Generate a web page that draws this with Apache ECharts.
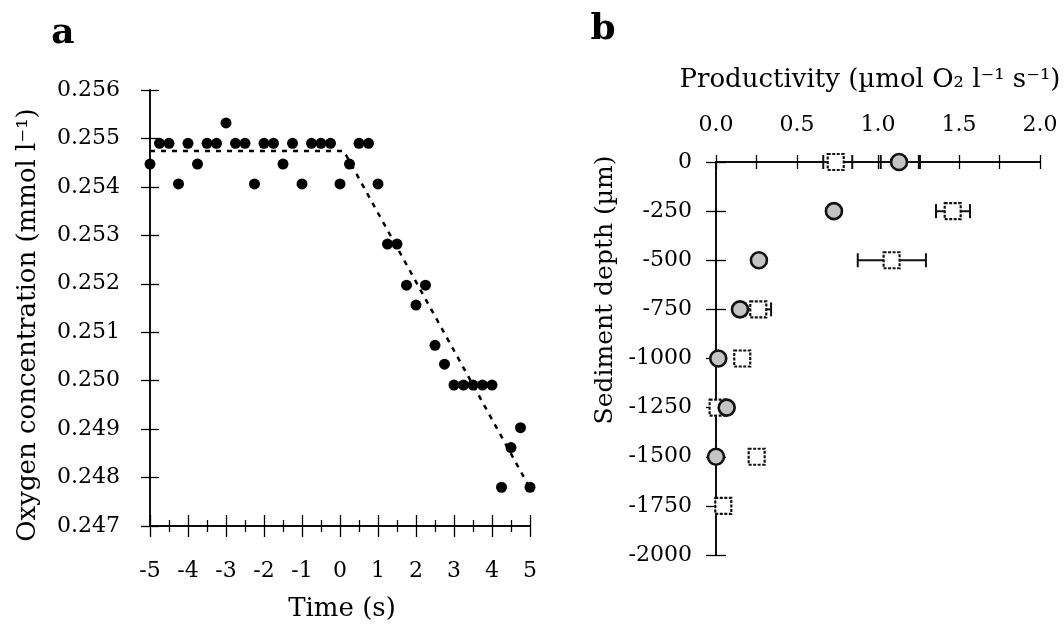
<!DOCTYPE html>
<html>
<head>
<meta charset="utf-8">
<script src="https://cdn.jsdelivr.net/npm/echarts@6/dist/echarts.min.js"></script>
<style>
html,body{margin:0;padding:0;background:#fff;}
#chart{width:1064px;height:627px;}
</style>
</head>
<body>
<div id="chart"></div>
<script>
// ---- Panel a data ----
const timeSec = [-5,-4.75,-4.5,-4.25,-4,-3.75,-3.5,-3.25,-3,-2.75,-2.5,-2.25,-2,-1.75,-1.5,-1.25,-1,-0.75,-0.5,-0.25,0,0.25,0.5,0.75,1,1.25,1.5,1.75,2,2.25,2.5,2.75,3,3.25,3.5,3.75,4,4.25,4.5,4.75,5];
const oxygen = [0.25447,0.2549,0.2549,0.25406,0.2549,0.25447,0.2549,0.2549,0.25532,0.2549,0.2549,0.25406,0.2549,0.2549,0.25447,0.2549,0.25406,0.2549,0.2549,0.2549,0.25406,0.25447,0.2549,0.2549,0.25406,0.25282,0.25282,0.25197,0.25156,0.25197,0.25073,0.25034,0.24991,0.24991,0.24991,0.24991,0.24991,0.2478,0.24862,0.24903,0.2478];
const fitTime = [-5, 0.1, 5];
const fitOxygen = [0.25474, 0.25474, 0.24778];
const xTicksA = [-5,-4,-3,-2,-1,0,1,2,3,4,5];
const yTicksA = [0.247,0.248,0.249,0.250,0.251,0.252,0.253,0.254,0.255,0.256];

// ---- Panel b data ----
const depth = [0,-250,-500,-750,-1000,-1250,-1500,-1750];
const circleProd = [1.13,0.728,0.265,0.148,0.014,0.066,0.0,null];
const circleLow  = [1.017,null,null,null,null,null,null,null];
const circleHigh = [1.259,null,null,null,null,null,null,null];
const squareProd = [0.739,1.461,1.084,0.261,0.162,0.01,0.251,0.045];
const squareLow  = [0.662,1.358,0.875,0.182,null,null,null,null];
const squareHigh = [0.841,1.568,1.296,0.34,null,null,null,null];
const xTicksB = [0.0,0.5,1.0,1.5,2.0];
const yTicksB = [0,-250,-500,-750,-1000,-1250,-1500,-1750,-2000];

const FONT = 'DejaVu Serif';
const chart = echarts.init(document.getElementById('chart'), null, {renderer:'canvas'});

const scatterA = timeSec.map((t,i)=>[t, oxygen[i]]);
const fitA = fitTime.map((t,i)=>[t, fitOxygen[i]]);
const circlesB = depth.map((d,i)=>[circleProd[i], d]).filter(p=>p[0]!==null);
const squaresB = depth.map((d,i)=>[squareProd[i], d]).filter(p=>p[0]!==null);
const errB = [];
depth.forEach((d,i)=>{
  if (circleLow[i]!==null) errB.push([circleLow[i], circleHigh[i], d]);
  if (squareLow[i]!==null) errB.push([squareLow[i], squareHigh[i], d]);
});

const axisLine = {show:true, onZero:false, lineStyle:{color:'#000', width:1.5}};
const lbl = {color:'#000', fontFamily:FONT, fontSize:22};

function xAxisA(inside){
  return {type:'value', gridIndex:0, position:'bottom', min:xTicksA[0], max:xTicksA[xTicksA.length-1], interval:1,
    axisLine, splitLine:{show:false},
    axisTick:{show:true, inside, length:11, lineStyle:{color:'#000', width:1.3}},
    minorTick:{show:true, splitNumber:2, length:6, lineStyle:{color:'#000', width:1.3}},
    axisLabel: inside ? {show:false} : Object.assign({margin:34, formatter:v=>String(v)}, lbl)};
}
function yAxisA(inside){
  return {type:'value', gridIndex:0, position:'left', min:yTicksA[0], max:yTicksA[yTicksA.length-1], interval:0.001,
    axisLine, splitLine:{show:false},
    axisTick:{show:true, inside, length:9, lineStyle:{color:'#000', width:1.3}},
    axisLabel: inside ? {show:false} : Object.assign({margin:30, formatter:v=>v.toFixed(3)}, lbl)};
}
function xAxisB(inside){
  return {type:'value', gridIndex:1, position:'top', min:xTicksB[0], max:xTicksB[xTicksB.length-1], interval:0.5,
    axisLine, splitLine:{show:false},
    axisTick:{show:true, inside, length:7, lineStyle:{color:'#000', width:1.3}},
    minorTick:{show:true, splitNumber:2, length:7, lineStyle:{color:'#000', width:1.3}},
    axisLabel: inside ? {show:false} : Object.assign({margin:26, formatter:v=>v.toFixed(1)}, lbl)};
}
function yAxisB(inside){
  return {type:'value', gridIndex:1, position:'left', min:yTicksB[yTicksB.length-1], max:yTicksB[0], interval:250,
    axisLine, splitLine:{show:false},
    axisTick:{show:true, inside, length:10, lineStyle:{color:'#000', width:1.3}},
    axisLabel: inside ? {show:false} : Object.assign({margin:24, formatter:v=>String(v)}, lbl)};
}

function txt(text, x, y, size, opts){
  opts = opts || {};
  return {type:'text', x, y, rotation: opts.rot || 0, z:100,
    style:{text, fill:'#000', font:(opts.bold?'bold ':'')+size+'px "'+FONT+'"',
      align:opts.align||'center', verticalAlign:'middle', textAlign:opts.align||'center', textVerticalAlign:'middle'}};
}

const option = {
  backgroundColor:'#fff',
  animation:false,
  grid:[
    {left:150, top:90, width:380, height:436},
    {left:716, top:162, width:324, height:393}
  ],
  xAxis:[xAxisA(false), xAxisA(true), xAxisB(false), xAxisB(true)],
  yAxis:[yAxisA(false), yAxisA(true), yAxisB(false), yAxisB(true)],
  series:[
    {type:'line', xAxisIndex:0, yAxisIndex:0, data:fitA, symbol:'none',
      lineStyle:{color:'#000', width:2.5, type:[5,6]}, z:2},
    {type:'scatter', xAxisIndex:0, yAxisIndex:0, data:scatterA, symbol:'circle', symbolSize:11,
      itemStyle:{color:'#000', opacity:1}, z:3},
    {type:'custom', xAxisIndex:2, yAxisIndex:2, data:errB, z:2,
      renderItem:function(params, api){
        const p1 = api.coord([api.value(0), api.value(2)]);
        const p2 = api.coord([api.value(1), api.value(2)]);
        const h = 7;
        const st = {stroke:'#111', lineWidth:2};
        return {type:'group', children:[
          {type:'line', shape:{x1:p1[0], y1:p1[1], x2:p2[0], y2:p2[1]}, style:st},
          {type:'line', shape:{x1:p1[0], y1:p1[1]-h, x2:p1[0], y2:p1[1]+h}, style:st},
          {type:'line', shape:{x1:p2[0], y1:p2[1]-h, x2:p2[0], y2:p2[1]+h}, style:st}
        ]};
      }},
    {type:'scatter', xAxisIndex:2, yAxisIndex:2, data:squaresB, symbol:'rect', symbolSize:16,
      itemStyle:{color:'#fff', opacity:1, borderColor:'#111', borderWidth:2.2, borderType:[3,1.5]}, z:4},
    {type:'scatter', xAxisIndex:2, yAxisIndex:2, data:circlesB, symbol:'circle', symbolSize:16,
      itemStyle:{color:'#c4c4c4', opacity:1, borderColor:'#111', borderWidth:2.6}, z:5}
  ],
  graphic:[
    txt('a', 63, 34, 36, {bold:true}),
    txt('b', 603, 30, 36, {bold:true}),
    txt('Time (s)', 342, 609, 26),
    txt('Oxygen concentration (mmol l⁻¹)', 28, 325, 26, {rot:Math.PI/2}),
    txt('Productivity (µmol O₂ l⁻¹ s⁻¹)', 870, 80, 26),
    txt('Sediment depth (µm)', 605, 290, 25, {rot:Math.PI/2})
  ]
};
chart.setOption(option);
</script>
</body>
</html>
